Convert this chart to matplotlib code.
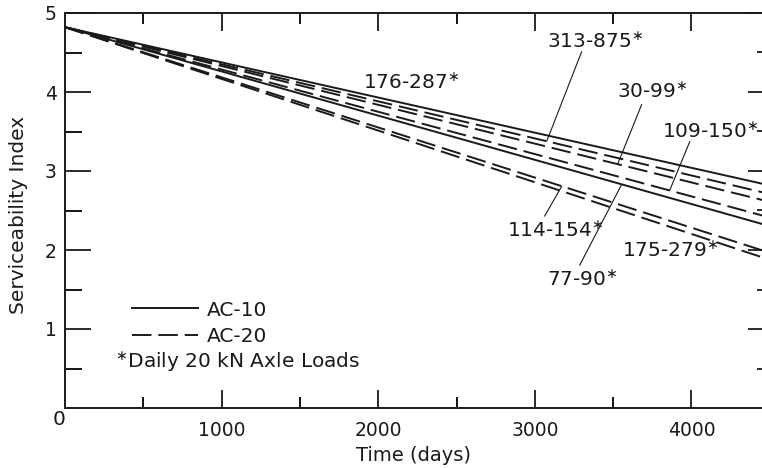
#!/usr/bin/env python3
"""
Serviceability index vs. time for AC-10 / AC-20 sections
(straight-line trends, one per traffic range).
"""

import numpy as np
import matplotlib
matplotlib.use("Agg")
import matplotlib.pyplot as plt
from matplotlib.lines import Line2D

# ------------------------
# DATA
# ------------------------
days = [0, 4540]

# traffic range label -> serviceability index at day 0 and at the last day
labels = ["176-287", "313-875", "30-99", "109-150", "77-90", "114-154", "175-279"]
psi_start = [4.82, 4.82, 4.82, 4.82, 4.82, 4.82, 4.82]
psi_end = [2.80, 2.69, 2.59, 2.39, 2.28, 1.94, 1.85]
binder = ["AC-10", "AC-20", "AC-20", "AC-20", "AC-10", "AC-20", "AC-20"]

# label text: left edge (days) and baseline (PSI)
label_x = [1902, 3076, 3523, 3810, 3076, 2821, 3555]
label_y = [4.04, 4.56, 3.92, 3.42, 1.54, 2.16, 1.91]

# leader lines: free end (days, PSI) and day where it meets its curve
leader_from = {"313-875": (3299, 4.51), "30-99": (3682, 3.84),
               "109-150": (3989, 3.37), "114-154": (3063, 2.43),
               "77-90": (3287, 1.81)}
leader_to_day = {"313-875": 3076, "30-99": 3529, "109-150": 3861,
                 "114-154": 3172, "77-90": 3555}

x_major = [1000, 2000, 3000, 4000]
y_major = [1, 2, 3, 4, 5]

INK = "#1a1a1a"
FS_TICK = 13.5
FS_LABEL = 14.5

plt.rcParams["font.family"] = ["DejaVu Sans"]
plt.rcParams["lines.scale_dashes"] = False

fig = plt.figure(figsize=(7.62, 4.68), dpi=100)
# right edge of the axes falls outside the picture (original is cropped)
ax = fig.add_axes([65 / 762, 60 / 468, 711 / 762, 395 / 468])

style = {"AC-10": "-", "AC-20": (0, (14, 5))}

for name, y0, y1, b in zip(labels, psi_start, psi_end, binder):
    ax.plot(days, [y0, y1], color=INK, lw=1.4, linestyle=style[b],
            solid_capstyle="butt", dash_capstyle="butt")

# curve labels with asterisk
for name, lx, ly in zip(labels, label_x, label_y):
    ax.text(lx, ly, name + r"$^{\ast}$", fontsize=FS_LABEL, color=INK,
            ha="left", va="baseline")

# leader lines
for name, (fx, fy) in leader_from.items():
    i = labels.index(name)
    tx = leader_to_day[name]
    ty = np.interp(tx, days, [psi_start[i], psi_end[i]])
    ax.plot([fx, tx], [fy, ty], color=INK, lw=0.8)

# legend in the lower-left corner
leg = ax.legend(handles=[Line2D([], [], color=INK, lw=1.4, linestyle=style["AC-10"]),
                         Line2D([], [], color=INK, lw=1.4, linestyle=style["AC-20"])],
                labels=["AC-10", "AC-20"], frameon=False, fontsize=FS_LABEL,
                handlelength=3.3, handletextpad=0.4, labelspacing=0.35,
                loc="lower left", bbox_to_anchor=(0.094, 0.158, 0.3, 0.2),
                borderaxespad=0.0, borderpad=0.0)
for t in leg.get_texts():
    t.set_color(INK)
ax.text(319, 0.50, r"$^{\ast}$Daily 20 kN Axle Loads", fontsize=FS_LABEL,
        color=INK, ha="left", va="baseline")

# ------------------------
# axes, ticks
# ------------------------
ax.set_xlim(0, 4540)
ax.set_ylim(0, 5)

ax.set_xticks(x_major)
ax.set_xticks(np.arange(500, 4540, 1000), minor=True)
ax.set_yticks(y_major)
ax.set_yticks(np.arange(0.5, 5, 1.0), minor=True)

ax.tick_params(axis="x", which="major", direction="in", top=True, bottom=True,
               length=13, width=1.3, pad=9, labelsize=FS_TICK, colors=INK)
ax.tick_params(axis="x", which="minor", direction="in", top=True, bottom=True,
               length=8, width=1.3)
ax.tick_params(axis="y", which="major", direction="in", left=True, right=False,
               length=19, width=1.3, pad=6, labelsize=FS_TICK, colors=INK)
ax.tick_params(axis="y", which="minor", direction="in", left=True, right=False,
               length=12, width=1.3)

sec = ax.secondary_yaxis("right")
sec.set_yticks(y_major)
sec.set_yticks(np.arange(0.5, 5, 1.0), minor=True)
sec.tick_params(axis="y", which="major", direction="in", length=20, width=1.3,
                labelright=False, colors=INK)
sec.tick_params(axis="y", which="minor", direction="in", length=14, width=1.3,
                colors=INK)
sec.spines["right"].set_visible(False)

for side in ["left", "bottom", "top"]:
    ax.spines[side].set_linewidth(1.4)
    ax.spines[side].set_color(INK)
ax.spines["right"].set_visible(False)

# shared "0" at the origin
ax.text(-38, -0.15, "0", fontsize=FS_TICK + 1, color=INK, ha="center",
        va="center", clip_on=False)

ax.set_xlabel("Time (days)", fontsize=FS_LABEL - 0.5, color=INK)
ax.xaxis.set_label_coords(0.49, -0.095)
ax.xaxis.label.set_va("top")
ax.set_ylabel("Serviceability Index", fontsize=FS_LABEL, color=INK)
ax.yaxis.set_label_coords(-0.052, 0.49)

fig.savefig("out.png", dpi=100, facecolor="white")
